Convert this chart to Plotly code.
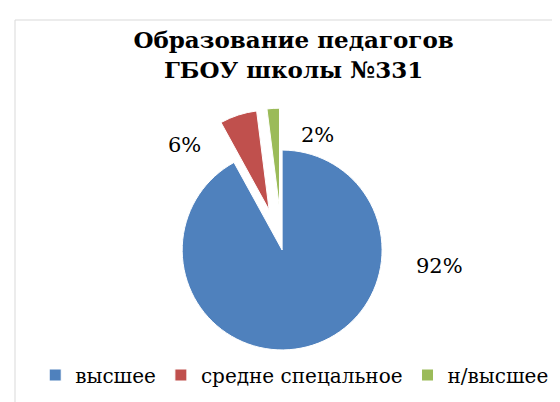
import plotly.graph_objects as go

categories = ["высшее", "средне спецальное", "н/высшее"]
values = [92, 6, 2]
colors = ["#4F81BD", "#C0504D", "#9BBB59"]
title_text = "Образование педагогов<br>ГБОУ школы №331"

W, H = 560, 402
# label anchor positions in pixels (x, y from top)
label_pos = [(431, 258), (176, 137), (309, 127)]

fig = go.Figure()
fig.add_trace(go.Pie(
    labels=categories,
    values=values,
    sort=False,
    direction="clockwise",
    rotation=0,
    pull=[0, 0.42, 0.42],
    marker=dict(colors=colors, line=dict(color="white", width=1)),
    textinfo="none",
    hoverinfo="label+percent",
    domain=dict(x=[0.236, 0.743], y=[0.045, 0.751]),
))

total = sum(values)
annotations = []
for v, (px, py) in zip(values, label_pos):
    annotations.append(dict(
        text=f"{round(v / total * 100)}%",
        x=px / W, y=1 - py / H, xref="paper", yref="paper",
        xanchor="center", yanchor="middle", showarrow=False,
        font=dict(family="DejaVu Serif", size=21, color="#000000"),
    ))

fig.update_layout(
    width=W, height=H,
    margin=dict(l=0, r=0, t=0, b=0),
    paper_bgcolor="white",
    plot_bgcolor="white",
    title=dict(
        text=title_text,
        x=0.51, xanchor="center",
        y=1 - 40 / H, yanchor="top",
        font=dict(family="DejaVu Serif", size=23, color="#000000", weight="bold"),
    ),
    legend=dict(
        orientation="h",
        x=0.512, xanchor="center",
        y=1 - 367 / H, yanchor="middle",
        font=dict(family="DejaVu Serif", size=20, color="#000000"),
        traceorder="normal",
        itemwidth=30,
    ),
    annotations=annotations,
    shapes=[dict(type="rect", xref="paper", yref="paper",
                 x0=7 / W, x1=1.05, y0=-0.05, y1=1 - 12 / H,
                 line=dict(color="#d9d9d9", width=1), fillcolor="rgba(0,0,0,0)",
                 layer="below")],
)

fig.write_html("out.html")
